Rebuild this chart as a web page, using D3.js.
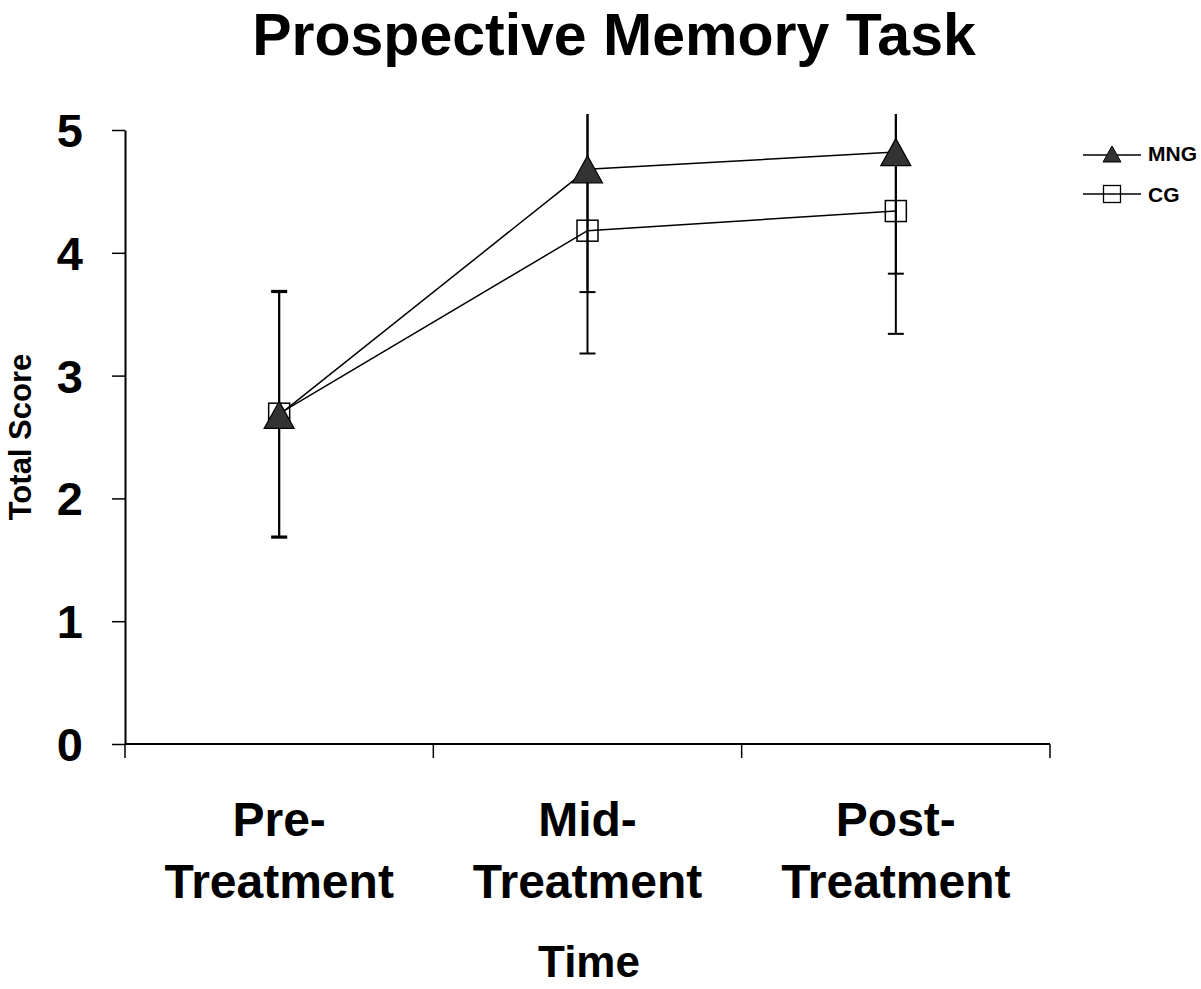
<!DOCTYPE html>
<html>
<head>
<meta charset="utf-8">
<script src="https://cdn.jsdelivr.net/npm/d3@7"></script>
<style>
  body { margin: 0; background: #fff; }
  svg { font-family: "Liberation Sans", Arial, sans-serif; }
</style>
</head>
<body>
<div id="chart"></div>
<script>
// data
const times = ['Pre-|Treatment', 'Mid-|Treatment', 'Post-|Treatment']
const mngMean = [2.68, 4.68, 4.82]
const mngSd = [1.0, 1.0, 0.99]
const cgMean = [2.69, 4.18, 4.34]
const cgSd = [1.0, 1.0, 1.0]
const yTicks = [0, 1, 2, 3, 4, 5]

const width = 1201, height = 989
const plot = { left: 125, right: 1050, top: 130, bottom: 744 }
const yMaxClip = 5.13

const svg = d3.select('#chart').append('svg')
    .attr('width', width)
    .attr('height', height)

const x = d3.scaleBand()
    .domain(times)
    .range([plot.left, plot.right])

const y = d3.scaleLinear()
    .domain([0, 5])
    .range([plot.bottom, plot.top])

const cx = d => x(d) + x.bandwidth() / 2

// title
svg.append('text')
    .attr('x', 614).attr('y', 55)
    .attr('text-anchor', 'middle')
    .style('font-size', '59px').style('font-weight', 'bold')
    .text('Prospective Memory Task')

// y axis
const yAxis = svg.append('g')
    .attr('transform', `translate(${plot.left},0)`)
    .call(d3.axisLeft(y).tickValues(yTicks).tickFormat(d3.format('d'))
        .tickSize(13).tickPadding(29).tickSizeOuter(0))
yAxis.select('.domain').attr('stroke', '#000').attr('stroke-width', 2)
yAxis.selectAll('.tick line').attr('stroke-width', 1.5)
yAxis.selectAll('.tick text')
    .style('font-size', '47px').style('font-weight', 'bold')
    .attr('font-family', null)
    .attr('dy', '0.35em')

// x axis
const xAxis = svg.append('g')
    .attr('transform', `translate(0,${plot.bottom})`)
xAxis.append('line')
    .attr('x1', plot.left).attr('x2', plot.right)
    .attr('stroke', '#000').attr('stroke-width', 2)
const xEdges = times.map(d => x(d)).concat([plot.right])
xAxis.selectAll('.xtick')
    .data(xEdges)
    .enter()
    .append('line')
    .attr('x1', d => d).attr('x2', d => d)
    .attr('y1', 0).attr('y2', 14)
    .attr('stroke', '#000').attr('stroke-width', 1.5)

// category labels
const lbl = svg.selectAll('.xlabel')
    .data(times)
    .enter()
    .append('text')
    .attr('text-anchor', 'middle')
    .style('font-size', '48px').style('font-weight', 'bold')
lbl.append('tspan')
    .attr('x', d => cx(d)).attr('y', 836)
    .text(d => d.split('|')[0])
lbl.append('tspan')
    .attr('x', d => cx(d)).attr('y', 898)
    .text(d => d.split('|')[1])

svg.append('text')
    .attr('x', 589).attr('y', 977)
    .attr('text-anchor', 'middle')
    .style('font-size', '44px').style('font-weight', 'bold')
    .text('Time')

svg.append('text')
    .attr('transform', `translate(31,437) rotate(-90)`)
    .attr('text-anchor', 'middle')
    .style('font-size', '31px').style('font-weight', 'bold')
    .text('Total Score')

// error bars
const series = [
    { name: 'MNG', mean: mngMean, sd: mngSd },
    { name: 'CG', mean: cgMean, sd: cgSd }
]

series.forEach(s => {
    const g = svg.append('g')
    times.forEach((t, i) => {
        const hi = s.mean[i] + s.sd[i]
        const lo = s.mean[i] - s.sd[i]
        g.append('line')
            .attr('x1', cx(t)).attr('x2', cx(t))
            .attr('y1', y(Math.min(hi, yMaxClip))).attr('y2', y(lo))
            .attr('stroke', '#000').attr('stroke-width', 2)
        g.append('line')
            .attr('x1', cx(t) - 8).attr('x2', cx(t) + 8)
            .attr('y1', y(lo)).attr('y2', y(lo))
            .attr('stroke', '#000').attr('stroke-width', 2)
        if (hi <= yMaxClip) {
            g.append('line')
                .attr('x1', cx(t) - 8).attr('x2', cx(t) + 8)
                .attr('y1', y(hi)).attr('y2', y(hi))
                .attr('stroke', '#000').attr('stroke-width', 2)
        }
    })
})

// lines
const line = d3.line()
    .x((d, i) => cx(times[i]))
    .y(d => y(d))

svg.append('path').datum(cgMean)
    .attr('d', line).attr('fill', 'none')
    .attr('stroke', '#000').attr('stroke-width', 1.5)
svg.append('path').datum(mngMean)
    .attr('d', line).attr('fill', 'none')
    .attr('stroke', '#000').attr('stroke-width', 1.5)

const triPath = (w, h) => `M0,${-h / 2}L${w / 2},${h / 2}L${-w / 2},${h / 2}Z`

svg.selectAll('.cg-pt')
    .data(cgMean)
    .enter()
    .append('rect')
    .attr('x', (d, i) => cx(times[i]) - 10.5)
    .attr('y', d => y(d) - 10.5)
    .attr('width', 21).attr('height', 21)
    .attr('fill', 'none').attr('stroke', '#000').attr('stroke-width', 1.5)

svg.selectAll('.mng-pt')
    .data(mngMean)
    .enter()
    .append('path')
    .attr('d', triPath(30, 27))
    .attr('transform', (d, i) => `translate(${cx(times[i])},${y(d)})`)
    .attr('fill', '#333').attr('stroke', '#000').attr('stroke-width', 1.2)

// legend
const legend = svg.append('g').attr('transform', 'translate(1083,0)')
legend.append('line').attr('x1', 0).attr('x2', 58).attr('y1', 155).attr('y2', 155)
    .attr('stroke', '#000').attr('stroke-width', 1.5)
legend.append('path')
    .attr('d', triPath(18, 16))
    .attr('transform', 'translate(29,154)')
    .attr('fill', '#333').attr('stroke', '#000')
legend.append('text').attr('x', 65).attr('y', 161)
    .style('font-size', '21px').style('font-weight', 'bold').text('MNG')
legend.append('line').attr('x1', 0).attr('x2', 58).attr('y1', 194).attr('y2', 194)
    .attr('stroke', '#000').attr('stroke-width', 1.5)
legend.append('rect').attr('x', 20.5).attr('y', 185.5).attr('width', 17).attr('height', 17)
    .attr('fill', 'none').attr('stroke', '#000').attr('stroke-width', 1.3)
legend.append('text').attr('x', 65).attr('y', 202)
    .style('font-size', '21px').style('font-weight', 'bold').text('CG')
</script>
</body>
</html>
